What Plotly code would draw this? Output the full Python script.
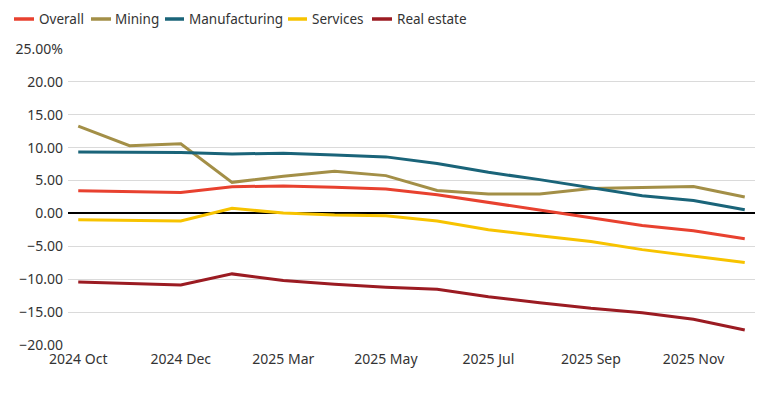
import plotly.graph_objects as go

months = ["2024 Oct", "2024 Nov", "2024 Dec", "2025 Feb", "2025 Mar", "2025 Apr",
          "2025 May", "2025 Jun", "2025 Jul", "2025 Aug", "2025 Sep", "2025 Oct",
          "2025 Nov", "2025 Dec"]
tick_months = ["2024 Oct", "2024 Dec", "2025 Mar", "2025 May", "2025 Jul", "2025 Sep", "2025 Nov"]

overall = [3.46, 3.38, 3.2, 4.07, 4.17, 3.97, 3.72, 2.85, 1.68, 0.56, -0.55, -1.83, -2.64, -3.86]
mining = [13.26, 10.3, 10.58, 4.73, 5.64, 6.4, 5.75, 3.5, 2.95, 2.95, 3.8, 3.9, 4.1, 2.5]
manufacturing = [9.35, 9.35, 9.25, 9.05, 9.15, 8.9, 8.6, 7.58, 6.25, 5.14, 3.87, 2.7, 1.98, 0.56]
services = [-0.96, -1.06, -1.16, 0.77, 0.06, -0.25, -0.35, -1.16, -2.48, -3.4, -4.27, -5.5, -6.5, -7.47]
real_estate = [-10.41, -10.67, -10.87, -9.19, -10.21, -10.76, -11.22, -11.53, -12.65, -13.57,
               -14.42, -15.09, -16.1, -17.73]

y_ticks = [25, 20, 15, 10, 5, 0, -5, -10, -15, -20]
y_tick_text = ["25.00%", "20.00", "15.00", "10.00", "5.00", "0.00", "−5.00", "−10.00", "−15.00", "−20.00"]

series = [
    ("Overall", overall, "#E8412F"),
    ("Mining", mining, "#A38F47"),
    ("Manufacturing", manufacturing, "#1A6479"),
    ("Services", services, "#F7C300"),
    ("Real estate", real_estate, "#9B1B22"),
]

# page body has an 8px default margin; compensate
OFF = 8
W, H = 780 - OFF, 400 - OFF
ML, MR, MT, MB = 68 - OFF, 25, 49 - OFF, 55
PW, PH = W - ML - MR, H - MT - MB


def px_x(sx):
    return (sx - OFF - ML) / PW


def px_y(sy):
    return 1 - (sy - OFF - MT) / PH


fig = go.Figure()
for name, vals, color in series:
    fig.add_trace(go.Scatter(x=months, y=vals, name=name, mode="lines",
                             line=dict(color=color, width=3), showlegend=False))

# legend drawn as line swatches + labels (screen pixel positions)
legend_pos = [(14, 34, 37), (91, 111, 113), (165, 184, 187), (288, 307, 310), (372, 392, 395)]
shapes, annotations = [], []
ly = px_y(19)
for (name, _, color), (x0, x1, tx) in zip(series, legend_pos):
    shapes.append(dict(type="line", xref="paper", yref="paper", x0=px_x(x0), x1=px_x(x1),
                       y0=ly, y1=ly, line=dict(color=color, width=3.5)))
    annotations.append(dict(text=name, xref="paper", yref="paper", x=px_x(tx), y=ly,
                            xanchor="left", yanchor="middle", showarrow=False,
                            font=dict(size=13.5, color="#333333")))

fig.update_layout(
    width=W, height=H,
    margin=dict(l=ML, r=MR, t=MT, b=MB, autoexpand=False),
    paper_bgcolor="white", plot_bgcolor="white",
    font=dict(family="Noto Sans", size=14, color="#333333"),
    showlegend=False,
    shapes=shapes, annotations=annotations,
)
fig.update_xaxes(type="category", categoryorder="array", categoryarray=months,
                 range=[-0.2, 13.2], tickvals=tick_months, ticktext=tick_months,
                 showgrid=False, zeroline=False, showline=False, ticks="",
                 ticklabelstandoff=4, automargin=False,
                 tickfont=dict(size=14, color="#333333"))
fig.update_yaxes(range=[-20, 25], tickvals=y_ticks, ticktext=y_tick_text,
                 showgrid=True, gridcolor="#DADADA", gridwidth=1.3,
                 zeroline=True, zerolinecolor="#000000", zerolinewidth=2,
                 showline=False, ticks="", automargin=False, ticklabelstandoff=4,
                 tickfont=dict(size=14, color="#333333"))

fig.write_html("out.html")
